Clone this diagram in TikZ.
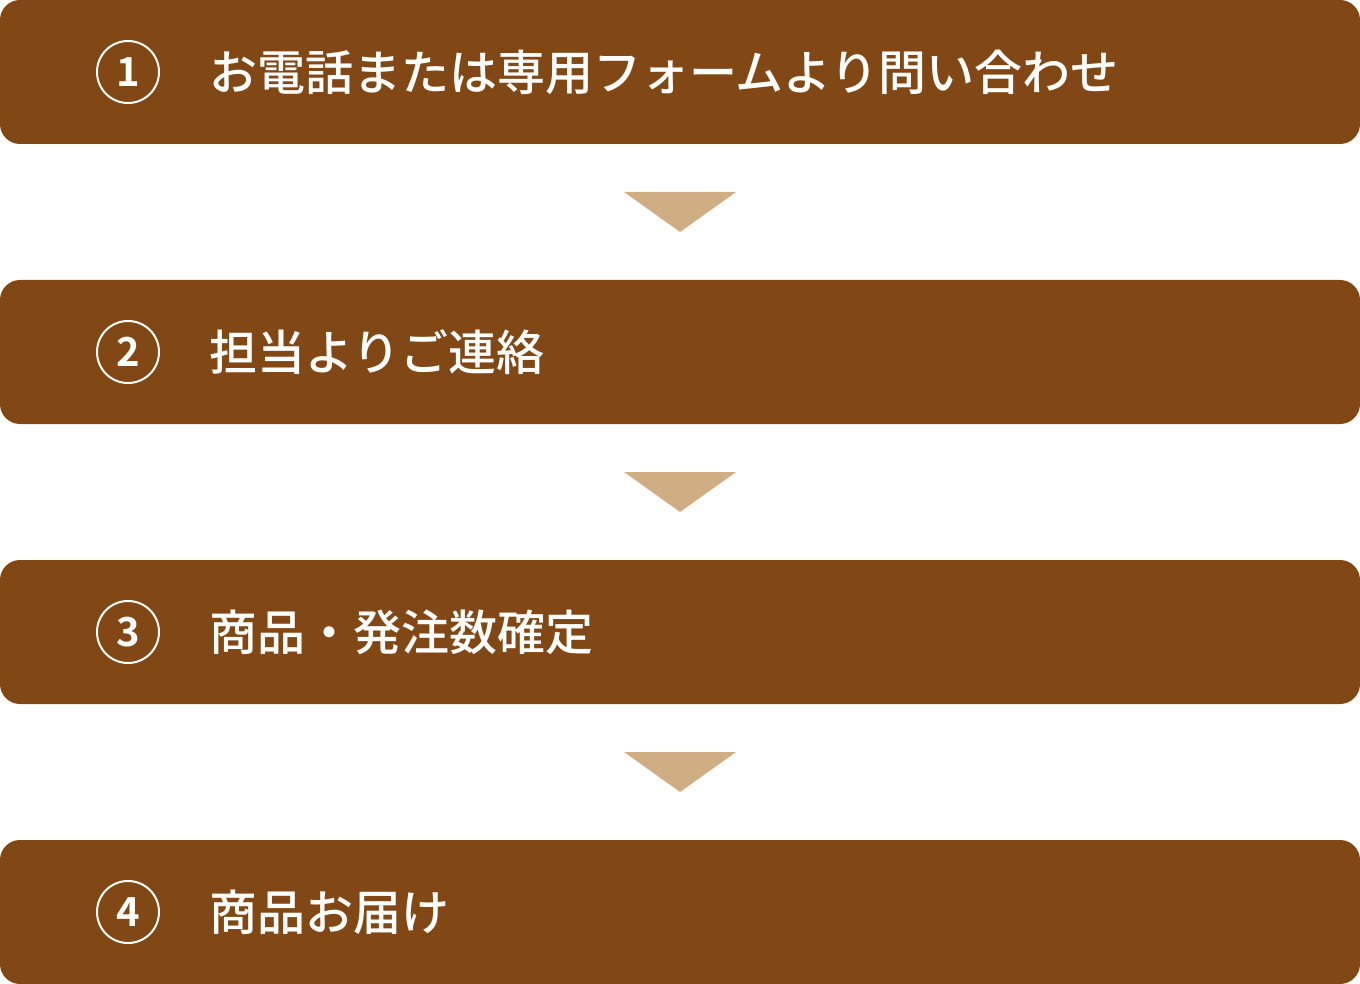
\documentclass[tikz,border=0pt]{standalone}
\usepackage{fontspec}
\newfontfamily\jptext{Noto Sans CJK JP Medium}
\newfontfamily\jpnum{Noto Sans CJK JP Bold}
\definecolor{brownbox}{HTML}{814816}
\definecolor{tanarrow}{HTML}{D1AD84}
\begin{document}
\begin{tikzpicture}[x=1pt,y=-1pt,
  stepbox/.style={fill=brownbox,rounded corners=20pt},
  numcircle/.style={circle,draw=white,line width=2pt,minimum size=62pt,inner sep=0pt,text=white,font=\jpnum\fontsize{40}{40}\selectfont},
  steptext/.style={anchor=west,text=white,inner sep=0pt,font=\jptext\fontsize{48}{48}\selectfont},
  downarrow/.style={fill=tanarrow}]
\useasboundingbox (0,0) rectangle (1360,984);
\foreach \i/\t in {0/お電話または専用フォームより問い合わせ,1/担当よりご連絡,2/商品・発注数確定,3/商品お届け}{
  \pgfmathsetmacro{\top}{\i*280}
  \fill[stepbox] (0,\top) rectangle (1360,\top+144);
  \pgfmathtruncatemacro{\n}{\i+1}
  \node[numcircle] (c\n) at (128,\top+72) {\n};
  \node[steptext] (t\n) at (209,\top+72) {\t};
}
\foreach \i in {0,1,2}{
  \pgfmathsetmacro{\ay}{\i*280+192}
  \fill[downarrow] (624,\ay) -- (736,\ay) -- (680,\ay+40) -- cycle;
}
\end{tikzpicture}
\end{document}
